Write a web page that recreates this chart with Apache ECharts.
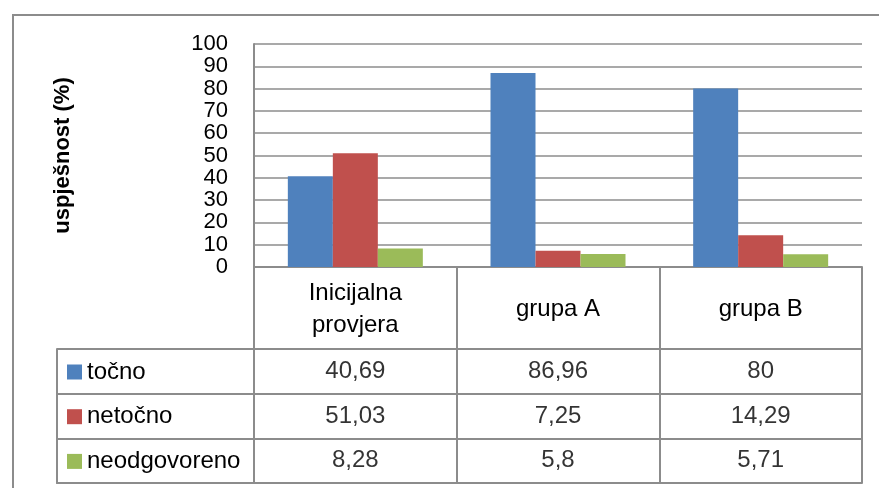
<!DOCTYPE html>
<html>
<head>
<meta charset="utf-8">
<script src="https://cdn.jsdelivr.net/npm/echarts@6/dist/echarts.min.js"></script>
<style>
  html, body { margin: 0; padding: 0; background: #fff; }
  #chart { width: 879px; height: 488px; }
</style>
</head>
<body>
<div id="chart"></div>
<script>
var categories = ['Inicijalna\nprovjera', 'grupa A', 'grupa B'];
var seriesNames = ['točno', 'netočno', 'neodgovoreno'];
var tocno = [40.69, 86.96, 80];
var netocno = [51.03, 7.25, 14.29];
var neodgovoreno = [8.28, 5.8, 5.71];
var yMin = 0, yMax = 100, yStep = 10;

var rows = [tocno, netocno, neodgovoreno];
var colors = ['#4F81BD', '#C0504D', '#9BBB59'];
var lineColor = '#8c8c8c';
var font = '"Liberation Sans", Arial, sans-serif';

function fmt(v) {
  return String(v).replace('.', ',');
}

// cells of the data table: [category index, row index, value]
var cells = [];
rows.forEach(function (vals, r) {
  vals.forEach(function (v, c) {
    cells.push([c, r, v]);
  });
});

var chart = echarts.init(document.getElementById('chart'));

var option = {
  animation: false,
  backgroundColor: '#fff',
  textStyle: { fontFamily: font },
  color: colors,
  graphic: [{
    type: 'rect',
    shape: { x: 13, y: 15, width: 900, height: 500 },
    style: { fill: 'none', stroke: lineColor, lineWidth: 2 },
    silent: true
  }],
  legend: {
    data: seriesNames,
    orient: 'vertical',
    left: 62,
    top: 355,
    icon: 'rect',
    itemWidth: 15,
    itemHeight: 15,
    itemGap: 20.7,
    textStyle: { fontSize: 24, lineHeight: 24, color: '#000', fontFamily: font }
  },
  grid: [
    { left: 254, top: 44, width: 608, height: 223 },
    { left: 254, top: 349, width: 608, height: 134 },
    { left: 57, top: 349, width: 197, height: 134 }
  ],
  xAxis: [
    {
      type: 'category',
      gridIndex: 0,
      data: categories,
      axisLine: { show: true, lineStyle: { color: lineColor, width: 2 } },
      axisTick: { show: true, interval: 0, length: 82, inside: false, lineStyle: { color: lineColor, width: 2 } },
      axisLabel: {
        interval: 0, margin: 42, verticalAlign: 'middle',
        fontSize: 24, lineHeight: 32, color: '#000', fontFamily: font
      },
      splitLine: { show: false }
    },
    {
      type: 'category',
      gridIndex: 1,
      data: categories,
      axisLine: { show: true, lineStyle: { color: lineColor, width: 2 } },
      axisTick: { show: false },
      axisLabel: { show: false },
      splitLine: { show: true, interval: 0, lineStyle: { color: lineColor, width: 2 } }
    },
    {
      type: 'category',
      gridIndex: 2,
      data: [''],
      axisLine: { show: true, lineStyle: { color: lineColor, width: 2 } },
      axisTick: { show: false },
      axisLabel: { show: false },
      splitLine: { show: false }
    }
  ],
  yAxis: [
    {
      type: 'value',
      gridIndex: 0,
      min: yMin,
      max: yMax,
      interval: yStep,
      name: 'uspješnost (%)',
      nameLocation: 'middle',
      nameRotate: 90,
      nameGap: 180,
      nameTextStyle: { fontSize: 22, fontWeight: 'bold', color: '#000', fontFamily: font },
      axisLine: { show: true, lineStyle: { color: lineColor, width: 2 } },
      axisTick: { show: false },
      axisLabel: {
        fontSize: 22, color: '#000', margin: 26, fontFamily: font,
        showMinLabel: true, showMaxLabel: true, hideOverlap: false
      },
      splitLine: { show: true, lineStyle: { color: lineColor, width: 1.5 } }
    },
    {
      type: 'category',
      gridIndex: 1,
      data: seriesNames,
      inverse: true,
      axisLine: { show: true, lineStyle: { color: lineColor, width: 2 } },
      axisTick: { show: false },
      axisLabel: { show: false },
      splitLine: { show: true, interval: 0, lineStyle: { color: lineColor, width: 2 } }
    },
    {
      type: 'category',
      gridIndex: 2,
      data: seriesNames,
      inverse: true,
      axisLine: { show: true, lineStyle: { color: lineColor, width: 2 } },
      axisTick: { show: false },
      axisLabel: { show: false },
      splitLine: { show: true, interval: 0, lineStyle: { color: lineColor, width: 2 } }
    }
  ],
  series: [
    { name: seriesNames[0], type: 'bar', xAxisIndex: 0, yAxisIndex: 0, data: tocno, barWidth: 45, barGap: 0 },
    { name: seriesNames[1], type: 'bar', xAxisIndex: 0, yAxisIndex: 0, data: netocno, barWidth: 45, barGap: 0 },
    { name: seriesNames[2], type: 'bar', xAxisIndex: 0, yAxisIndex: 0, data: neodgovoreno, barWidth: 45, barGap: 0 },
    {
      type: 'scatter',
      xAxisIndex: 1,
      yAxisIndex: 1,
      symbolSize: 0,
      data: cells,
      silent: true,
      label: {
        show: true,
        position: 'inside',
        fontSize: 24,
        color: '#000',
        fontFamily: font,
        formatter: function (p) { return fmt(p.value[2]); }
      }
    }
  ]
};

chart.setOption(option);
</script>
</body>
</html>
